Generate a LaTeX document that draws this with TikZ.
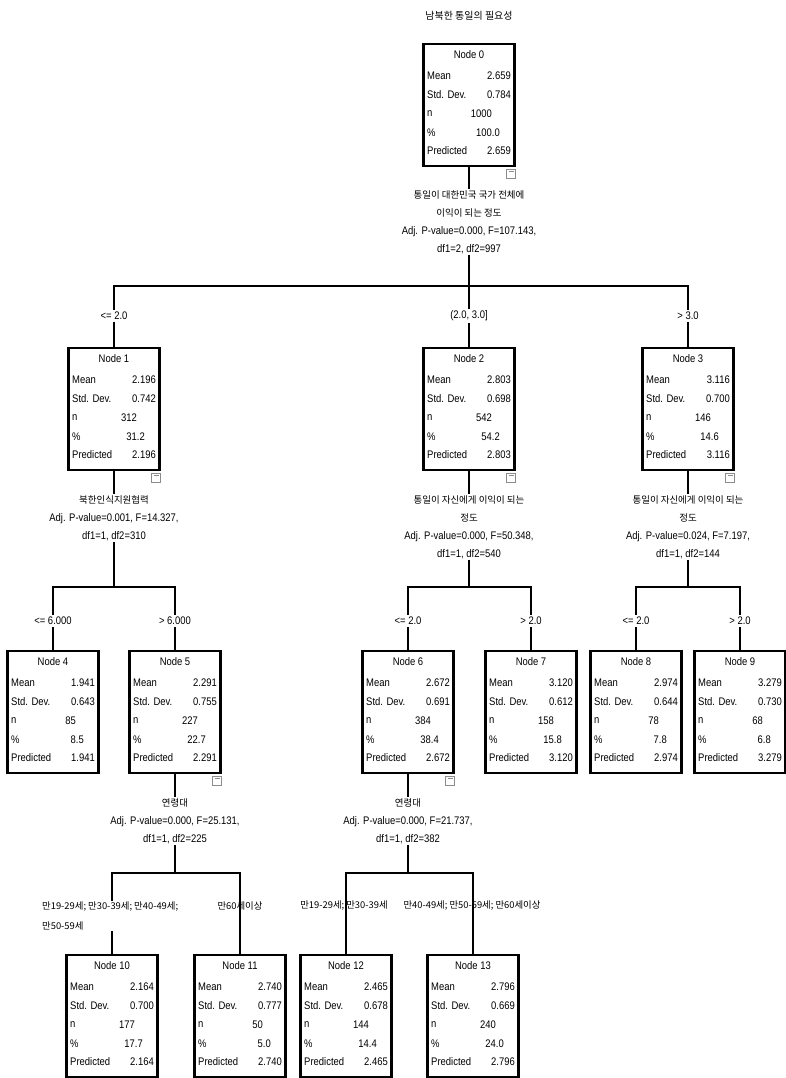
\documentclass[tikz,border=0pt]{standalone}
\usepackage{fontspec}
\setmainfont{Liberation Sans}[FakeStretch=0.86]
\newfontfamily\kr{Noto Sans CJK KR}[Scale=0.86]
\usepackage{tikz}
\definecolor{FoldGray}{HTML}{8C8C8C}

\begin{document}
\begin{tikzpicture}[x=1pt,y=-1pt,
  statbox/.style={draw,line width=2.8pt,minimum width=91pt,minimum height=122pt,inner sep=0pt},
  cell/.style={inner sep=0pt,font=\fontsize{11}{12}\selectfont},
  edge/.style={line width=1.6pt},
  split/.style={fill=white,inner sep=1.5pt,align=center,font=\fontsize{11}{18}\selectfont},
  cut/.style={fill=white,inner sep=2pt,font=\fontsize{11}{12}\selectfont},
  group/.style={inner sep=1pt,font=\kr\fontsize{10.9}{20}\selectfont},
  foldbox/.style={draw=FoldGray,line width=0.6pt,minimum size=9pt,inner sep=0pt,
    path picture={\draw[FoldGray,line width=0.6pt]
      ([xshift=2pt,yshift=-2.5pt]path picture bounding box.north west) --
      ([xshift=-2pt,yshift=-2.5pt]path picture bounding box.north east);}}]
  \useasboundingbox (0,0) rectangle (786,1078);
  % one box of the tree: name, centre x, top y, number, mean, sd, n, percent
  \def\statnode#1#2#3#4#5#6#7#8{
    \node[statbox] (#1) at (#2,#3+62) {};
    \node[cell] (#1t) at (#2,#3+12) {Node #4};
    \node[cell,anchor=west] (#1r1) at (#2-42,#3+33) {Mean};
    \node[cell,anchor=east] (#1v1) at (#2+42,#3+33) {#5};
    \node[cell,anchor=west] (#1r2) at (#2-42,#3+52) {Std. Dev.};
    \node[cell,anchor=east] (#1v2) at (#2+42,#3+52) {#6};
    \node[cell,anchor=west] (#1r3) at (#2-42,#3+71) {n};
    \node[cell,anchor=east] (#1v3) at (#2+23,#3+71) {#7};
    \node[cell,anchor=west] (#1r4) at (#2-42,#3+90) {\%};
    \node[cell,anchor=east] (#1v4) at (#2+31,#3+90) {#8};
    \node[cell,anchor=west] (#1r5) at (#2-42,#3+108) {Predicted};
    \node[cell,anchor=east] (#1v5) at (#2+42,#3+108) {#5};
  }
  \def\fold#1{\node[foldbox,anchor=north east] (#1m) at ([yshift=-1.5pt]#1.south east) {};}

  \node[font=\kr\fontsize{11.6}{12}\selectfont] (title) at (469,16) {남북한 통일의 필요성};

  \statnode{n0}{469}{43}{0}{2.659}{0.784}{1000}{100.0}
  \statnode{n1}{114}{347}{1}{2.196}{0.742}{312}{31.2}
  \statnode{n2}{469}{347}{2}{2.803}{0.698}{542}{54.2}
  \statnode{n3}{688}{347}{3}{3.116}{0.700}{146}{14.6}
  \statnode{n4}{53}{650}{4}{1.941}{0.643}{85}{8.5}
  \statnode{n5}{175}{650}{5}{2.291}{0.755}{227}{22.7}
  \statnode{n6}{408}{650}{6}{2.672}{0.691}{384}{38.4}
  \statnode{n7}{531}{650}{7}{3.120}{0.612}{158}{15.8}
  \statnode{n8}{636}{650}{8}{2.974}{0.644}{78}{7.8}
  \statnode{n9}{740}{650}{9}{3.279}{0.730}{68}{6.8}
  \statnode{n10}{112}{954}{10}{2.164}{0.700}{177}{17.7}
  \statnode{n11}{240}{954}{11}{2.740}{0.777}{50}{5.0}
  \statnode{n12}{346}{954}{12}{2.465}{0.678}{144}{14.4}
  \statnode{n13}{473}{954}{13}{2.796}{0.669}{240}{24.0}

  \fold{n0} \fold{n1} \fold{n2} \fold{n3} \fold{n5} \fold{n6}

  % junctions of the splits
  \coordinate (j0) at (469,286);
  \coordinate (j1) at (114,587);
  \coordinate (j2) at (469,587);
  \coordinate (j3) at (688,587);
  \coordinate (j5) at (175,873);
  \coordinate (j6) at (408,873);

  \draw[edge] (n0.south) -- (j0) -- (n2.north);
  \draw[edge] (n1.north) |- (j0) -| (n3.north);
  \draw[edge] (n1.south) -- (j1);
  \draw[edge] (n4.north) |- (j1) -| (n5.north);
  \draw[edge] (n2.south) -- (j2);
  \draw[edge] (n6.north) |- (j2) -| (n7.north);
  \draw[edge] (n3.south) -- (j3);
  \draw[edge] (n8.north) |- (j3) -| (n9.north);
  \draw[edge] (n5.south) -- (j5);
  \draw[edge] (n10.north) |- (j5) -| (n11.north);
  \draw[edge] (n6.south) -- (j6);
  \draw[edge] (n12.north) |- (j6) -| (n13.north);

  % split variables
  \node[split] (s0) at (469,222) {{\kr 통일이 대한민국 국가 전체에}\\{\kr 이익이 되는 정도}\\
    Adj. P-value=0.000, F=107.143,\\df1=2, df2=997};
  \node[split] (s1) at (114,518) {{\kr 북한인식지원협력}\\Adj. P-value=0.001, F=14.327,\\df1=1, df2=310};
  \node[split] (s2) at (469,527) {{\kr 통일이 자신에게 이익이 되는}\\{\kr 정도}\\
    Adj. P-value=0.000, F=50.348,\\df1=1, df2=540};
  \node[split] (s3) at (688,527) {{\kr 통일이 자신에게 이익이 되는}\\{\kr 정도}\\
    Adj. P-value=0.024, F=7.197,\\df1=1, df2=144};
  \node[split] (s5) at (175,821) {{\kr 연령대}\\Adj. P-value=0.000, F=25.131,\\df1=1, df2=225};
  \node[split] (s6) at (408,821) {{\kr 연령대}\\Adj. P-value=0.000, F=21.737,\\df1=1, df2=382};

  % branch conditions
  \node[cut] (c1) at (114,316) {<= 2.0};
  \node[cut] (c2) at (469,316) {(2.0, 3.0]};
  \node[cut] (c3) at (688,316) {> 3.0};
  \node[cut] (c4) at (53,621) {<= 6.000};
  \node[cut] (c5) at (175,621) {> 6.000};
  \node[cut] (c6) at (408,621) {<= 2.0};
  \node[cut] (c7) at (531,621) {> 2.0};
  \node[cut] (c8) at (636,621) {<= 2.0};
  \node[cut] (c9) at (740,621) {> 2.0};
  \node[group,fill=white,align=left,anchor=west] (c10) at (41,916) {만19-29세; 만30-39세; 만40-49세;\\만50-59세};
  \node[group] (c11) at (240,906) {만60세이상};
  \node[group] (c12) at (344,906) {만19-29세; 만30-39세};
  \node[group] (c13) at (472,906) {만40-49세; 만50-59세; 만60세이상};
\end{tikzpicture}
\end{document}
